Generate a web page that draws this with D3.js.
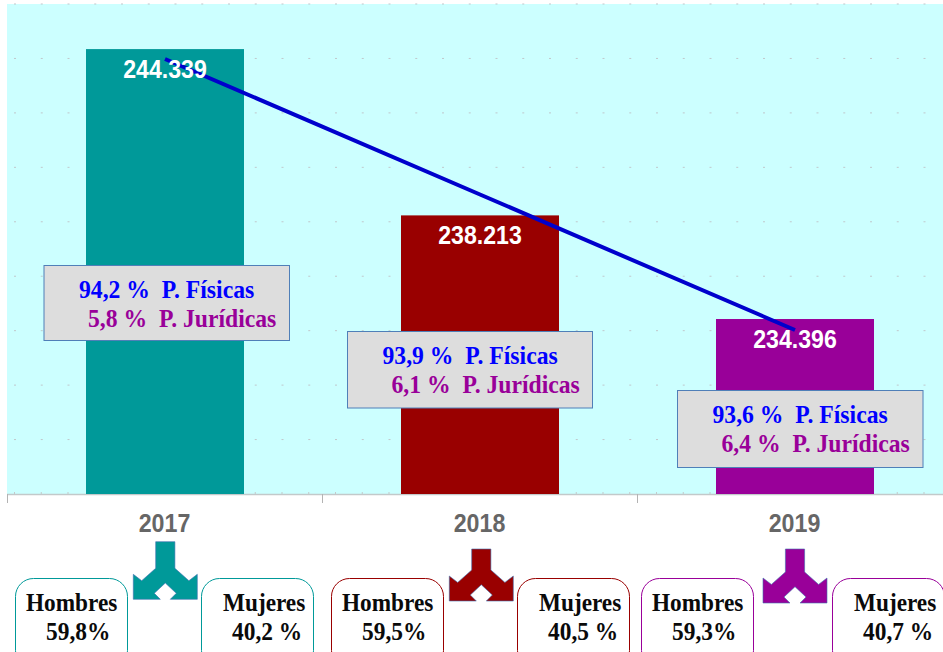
<!DOCTYPE html>
<html><head><meta charset="utf-8">
<script src="https://cdn.jsdelivr.net/npm/d3@7"></script>
<style>html,body{margin:0;padding:0;background:#fff}svg{display:block}text{white-space:pre}</style>
</head><body><svg id="c" width="943" height="652"></svg>
<script>
const years = ["2017","2018","2019"];
const totals = [244339,238213,234396];
const totalLabels = ["244.339","238.213","234.396"];
const trend = [243974,238983,233991];
const barColors = ["#009999","#990000","#990099"];
const fisicas = ["94,2 %  P. Físicas","93,9 %  P. Físicas","93,6 %  P. Físicas"];
const juridicas = ["5,8 %  P. Jurídicas","6,1 %  P. Jurídicas","6,4 %  P. Jurídicas"];
const hombres = ["59,8%","59,5%","59,3%"];
const mujeres = ["40,2 %","40,5 %","40,7 %"];
const gridTicks = d3.range(228000,246001,2000);

const svg = d3.select("#c");
const L=7,T=4,B=494;
const x = d3.scaleBand().domain(years).range([7.5,952.5]);
const y = d3.scaleLinear().domain([227950,246000]).range([B,T]);
const gridY = d3.scaleLinear().domain([228000,246000]).range([B,T]);
const barW = 158;
const cx = d=>x(d)+x.bandwidth()/2;

function label(sel,px,py,size,family,fill,txt,anchor,sx){
  return sel.append("text")
    .attr("transform",`translate(${px},${py}) scale(${sx},1)`)
    .attr("text-anchor",anchor||"start").attr("font-family",family).attr("font-weight","bold")
    .attr("font-size",size).attr("fill",fill).text(txt);
}

svg.append("rect").attr("x",L).attr("y",T).attr("width",943-L).attr("height",B-T).attr("fill","#ccffff");

// dotted grid
const dots = d3.range(L+7,943,26.75);
const g = svg.append("g");
gridTicks.slice(1).forEach(t=>{
  g.selectAll(null).data(dots).join("rect")
   .attr("x",d=>d).attr("y",gridY(t)-0.5).attr("width",2).attr("height",1).attr("fill","#c0c8cc");
});
// baseline & ticks
svg.append("line").attr("x1",L).attr("x2",943).attr("y1",B+0.5).attr("y2",B+0.5).attr("stroke","#c3c9ca").attr("stroke-width",1.5);
svg.selectAll(null).data(dots).join("line").attr("x1",d=>d+0.5).attr("x2",d=>d+0.5).attr("y1",B-2).attr("y2",B).attr("stroke","#c3c9ca");
svg.selectAll(null).data(years).join("line")
  .attr("x1",d=>x(d)).attr("x2",d=>x(d)).attr("y1",B).attr("y2",B+9).attr("stroke","#b3b3b3");

// bars
svg.selectAll(null).data(years).join("rect")
  .attr("x",d=>cx(d)-barW/2).attr("width",barW)
  .attr("y",(d,i)=>y(totals[i])).attr("height",(d,i)=>B-y(totals[i]))
  .attr("fill",(d,i)=>barColors[i]);

// trend line
svg.append("path").datum(trend)
  .attr("d",d3.line().x((d,i)=>cx(years[i])).y(d=>y(d)))
  .attr("fill","none").attr("stroke","#0000cc").attr("stroke-width",4);

// value labels
years.forEach((d,i)=>label(svg,cx(d),y(totals[i])+29,25.7,"Liberation Sans","#fff",totalLabels[i],"middle",0.9));
// category labels
years.forEach(d=>label(svg,cx(d)-0.5,532,25.5,"Liberation Sans","#666666",d,"middle",0.91));

// callout boxes
const boxes = [[44,265.5,245.5,75],[347.5,331.5,245,76.5],[677.5,390.5,245.5,77]];
const serif = "Liberation Serif";
boxes.forEach((b,i)=>{
  svg.append("rect").attr("x",b[0]).attr("y",b[1]).attr("width",b[2]).attr("height",b[3])
    .attr("fill","#dddddd").attr("stroke","#4f7fb8").attr("stroke-width",1);
  label(svg,b[0]+35,b[1]+32,26,serif,"#0000ff",fisicas[i],"start",0.91);
  label(svg,b[0]+44,b[1]+61,26,serif,"#990099",juridicas[i],"start",0.91);
});

// split arrows: centre, top, arm-tip level
const arrows = [[165.3,541.7,574.3],[481.3,549,576],[795,549,578]];
arrows.forEach((a,i)=>{
  const [c,t,k] = a;
  const p = [[-9.6,t],[9.6,t],[9.6,k-6],[23.6,k+6.4],[32,k],[32,k+25],[5,k+25],[11,k+19],[0,k+8.7],[-11,k+19],[-5,k+25],[-32,k+25],[-32,k],[-23.6,k+6.4],[-9.6,k-6]];
  svg.append("path").attr("d",d3.line()(p.map(q=>[c+q[0],q[1]]))+"Z")
    .attr("fill",barColors[i]).attr("stroke","#3f6fb0").attr("stroke-width",0.6);
});

// rounded cards, clipped by the page bottom
const cards = [[[16,128],[202,314]],[[332,444],[518,630]],[[642,754],[833,945]]];
cards.forEach((pair,i)=>{
  pair.forEach((c,j)=>{
    svg.append("rect").attr("x",c[0]-.5).attr("y",578.5).attr("width",c[1]-c[0]).attr("height",90).attr("rx",18)
      .attr("fill","#fff").attr("stroke",barColors[i]).attr("stroke-width",1);
    const lab = j===0?"Hombres":"Mujeres";
    const val = j===0?hombres[i]:mujeres[i];
    label(svg,j===0?c[0]+10:c[0]+21,611,26,serif,"#0a0a0a",lab,"start",0.895);
    label(svg,c[0]+30,640,26,serif,"#0a0a0a",val,"start",0.9);
  });
});
</script></body></html>
